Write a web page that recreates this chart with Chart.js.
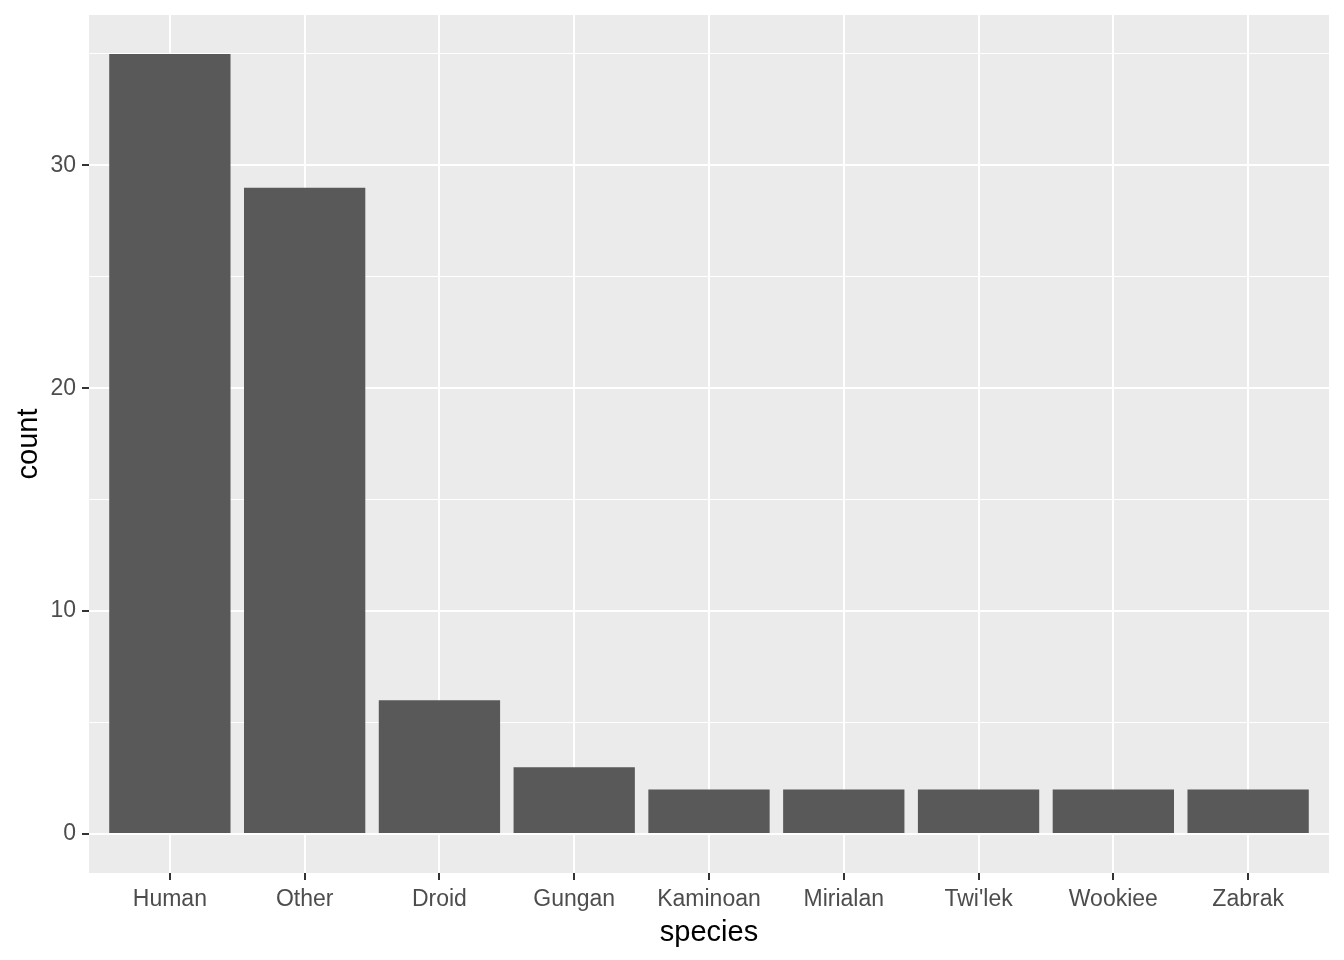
<!DOCTYPE html>
<html>
<head>
<meta charset="utf-8">
<script src="https://cdn.jsdelivr.net/npm/chart.js@4"></script>
<style>
  body { margin: 0; background: #fff; }
  #wrap { width: 1344px; height: 960px; }
</style>
</head>
<body>
<div id="wrap"><canvas id="speciesChart"></canvas></div>
<script>
// species counts
const species = ['Human', 'Other', 'Droid', 'Gungan', 'Kaminoan', 'Mirialan', "Twi'lek", 'Wookiee', 'Zabrak'];
const counts = [35, 29, 6, 3, 2, 2, 2, 2, 2];
const yTicks = [0, 5, 10, 15, 20, 25, 30, 35];
const yLabels = [0, 10, 20, 30];

const panelBg = {
  id: 'panelBg',
  beforeDraw(chart) {
    const { ctx, chartArea: a } = chart;
    ctx.save();
    ctx.fillStyle = '#EBEBEB';
    ctx.fillRect(a.left, a.top, a.right - a.left, a.bottom - a.top);
    ctx.restore();
  }
};

const font = 'Liberation Sans, Arial, sans-serif';

new Chart(document.getElementById('speciesChart').getContext('2d'), {
  type: 'bar',
  data: {
    datasets: [{
      data: counts.map((c, i) => ({ x: i + 1, y: c })),
      backgroundColor: '#595959',
      borderWidth: 0,
      barPercentage: 0.9,
      categoryPercentage: 1
    }]
  },
  options: {
    responsive: true,
    maintainAspectRatio: false,
    animation: false,
    layout: { padding: { top: 15, right: 15, left: 0, bottom: 0 } },
    plugins: { legend: { display: false }, tooltip: { enabled: false } },
    scales: {
      x: {
        type: 'linear',
        offset: false,
        min: 0.4,
        max: 9.6,
        afterBuildTicks: s => { s.ticks = species.map((_, i) => ({ value: i + 1 })); },
        afterFit: s => {
          s.height = 87;
          s.paddingLeft = 0;
          s.paddingRight = 0;
        },
        border: { display: false },
        grid: {
          offset: false,
          color: '#FFFFFF',
          lineWidth: 2,
          tickColor: '#333333',
          tickLength: 7,
          tickWidth: 2
        },
        ticks: {
          autoSkip: false,
          maxRotation: 0,
          padding: 6,
          color: '#4D4D4D',
          font: { family: font, size: 23 },
          callback: v => species[v - 1]
        },
        title: {
          display: true,
          text: 'species',
          color: '#000000',
          font: { family: font, size: 29 },
          padding: { top: 0, bottom: 10 }
        }
      },
      y: {
        min: -1.75,
        max: 36.75,
        afterBuildTicks: s => { s.ticks = yTicks.map(v => ({ value: v })); },
        afterFit: s => {
          s.width = 89;
          s.paddingTop = 0;
          s.paddingBottom = 0;
        },
        border: { display: false },
        grid: {
          color: '#FFFFFF',
          lineWidth: c => (yLabels.includes(c.tick.value) ? 2 : 1),
          tickColor: c => (yLabels.includes(c.tick.value) ? '#333333' : 'rgba(0,0,0,0)'),
          tickLength: 7,
          tickWidth: 2
        },
        ticks: {
          padding: 6,
          color: '#4D4D4D',
          font: { family: font, size: 23 },
          callback: v => (yLabels.includes(v) ? v : '')
        },
        title: {
          display: true,
          text: 'count',
          color: '#000000',
          font: { family: font, size: 29 },
          padding: { top: 12, bottom: 0 }
        }
      }
    }
  },
  plugins: [panelBg]
});
</script>
</body>
</html>
